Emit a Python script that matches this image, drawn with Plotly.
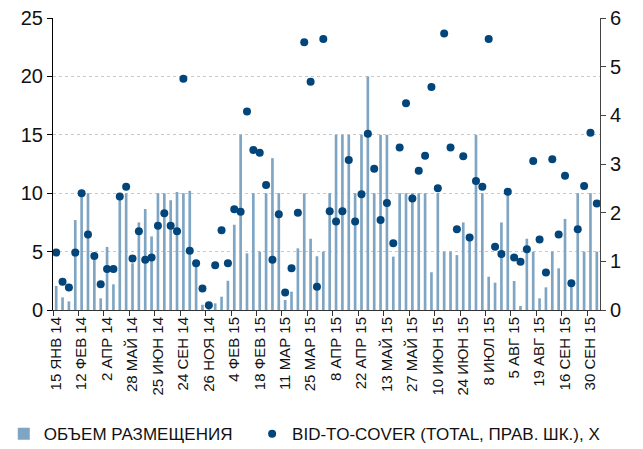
import plotly.graph_objects as go

# Auction dates shown on the axis (every 4th auction)
date_labels = ['15 ЯНВ 14', '12 ФЕВ 14', '2 АПР 14', '28 МАЙ 14', '25 ИЮН 14', '24 СЕН 14',
               '26 НОЯ 14', '4 ФЕВ 15', '18 ФЕВ 15', '11 МАР 15', '25 МАР 15', '8 АПР 15',
               '22 АПР 15', '13 МАЙ 15', '27 МАЙ 15', '10 ИЮН 15', '24 ИЮН 15', '8 ИЮЛ 15',
               '5 АВГ 15', '19 АВГ 15', '16 СЕН 15', '30 СЕН 15']

# Placement volume (left axis)
volume = [2.06, 1.08, 0.74, 7.7, 10, 10, 4.3, 1.0, 5.4, 2.2,
          10, 10, 4.0, 7.5, 8.65, 6.3, 10, 10, 9.4, 10.1,
          10, 10.2, 3.9, 0.45, 0.5, 0.57, 1.14, 2.5, 7.3, 15,
          4.85, 10, 5.0, 10, 13, 10, 0.86, 1.57, 5.28, 10,
          6.1, 4.6, 5.0, 10, 15, 15, 15, 10, 15, 20,
          10, 15, 15, 4.57, 10, 10, 10, 10, 10, 3.23,
          10, 5.0, 5.0, 4.7, 7.5, 6.3, 15, 10, 2.85, 2.34,
          7.5, 10, 2.48, 0.34, 6.1, 5.0, 1.0, 1.94, 5.0, 3.57,
          7.8, 2.0, 10, 5.0, 10, 5.0]

# Bid-to-cover ratio (right axis)
bid_to_cover = [1.18, 0.58, 0.46, 1.18, 2.4, 1.55, 1.11, 0.53, 0.84, 0.84,
                2.33, 2.53, 1.06, 1.62, 1.03, 1.08, 1.73, 1.99, 1.73, 1.62,
                4.75, 1.22, 0.96, 0.44, 0.1, 0.92, 1.64, 0.96, 2.07, 2.02,
                4.08, 3.29, 3.23, 2.57, 1.03, 1.97, 0.36, 0.86, 2.0, 5.5,
                4.69, 0.48, 5.57, 2.03, 1.82, 2.03, 3.08, 1.82, 2.38, 3.62,
                2.9, 1.85, 2.2, 1.37, 3.34, 4.25, 2.29, 2.86, 3.17, 4.58,
                2.5, 5.68, 3.34, 1.66, 3.16, 1.49, 2.65, 2.53, 5.57, 1.3,
                1.15, 2.43, 1.08, 0.99, 1.25, 3.06, 1.45, 0.77, 3.1, 1.55,
                2.76, 0.55, 1.66, 2.55, 3.64, 2.19]

x = list(range(len(volume)))
font_family = 'Liberation Sans Narrow, Arial Narrow, Liberation Sans, Arial, sans-serif'

fig = go.Figure()

fig.add_trace(go.Bar(
    x=x,
    y=volume,
    name='ОБЪЕМ РАЗМЕЩЕНИЯ',
    marker=dict(color='#7FA5C3', line=dict(width=0)),
    width=0.42,
    legend='legend',
))

fig.add_trace(go.Scatter(
    x=x,
    y=bid_to_cover,
    name='BID-TO-COVER (TOTAL, ПРАВ. ШК.), X',
    mode='markers',
    marker=dict(color='#02457A', size=8),
    yaxis='y2',
    legend='legend2',
))

legend_style = dict(orientation='h', y=-0.425, yanchor='middle', xanchor='left',
                    font=dict(size=17, color='#111111'), bgcolor='rgba(0,0,0,0)')

fig.update_layout(
    width=643,
    height=449,
    margin=dict(l=53, r=43, t=18, b=139, autoexpand=False),
    plot_bgcolor='white',
    paper_bgcolor='white',
    font=dict(family=font_family, color='#111111', size=15),
    showlegend=True,
    legend=dict(x=-0.09, **legend_style),
    legend2=dict(x=0.364, **legend_style),
    xaxis=dict(
        range=[-0.5, len(volume) - 0.5],
        tickmode='array',
        # labels sit on every 4th auction, tick marks on the group boundaries
        tickvals=[i * 4 for i in range(len(date_labels))],
        ticktext=date_labels,
        tickangle=-90,
        ticks='',
        minor=dict(
            tickmode='array',
            tickvals=[i * 4 - 0.5 for i in range(len(date_labels))],
            ticks='outside',
            ticklen=5,
            tickcolor='#333333',
            showgrid=False,
        ),
        showline=True,
        linecolor='#333333',
        linewidth=1,
        showgrid=False,
        zeroline=False,
        tickfont=dict(size=15),
    ),
    yaxis=dict(
        range=[0, 25],
        dtick=5,
        ticks='outside',
        ticklen=5,
        tickcolor='#000000',
        showline=True,
        linecolor='#000000',
        linewidth=1,
        showgrid=True,
        gridcolor='#C8C8C8',
        griddash='dot',
        zeroline=False,
        tickfont=dict(size=20),
    ),
    yaxis2=dict(
        range=[0, 6],
        dtick=1,
        overlaying='y',
        side='right',
        ticks='outside',
        ticklen=5,
        tickcolor='#444444',
        showline=True,
        linecolor='#444444',
        linewidth=1,
        showgrid=False,
        zeroline=False,
        tickfont=dict(size=20),
    ),
)

# drop the default page margin so the figure fills the window exactly
fig.write_html('out.html', config={'displayModeBar': False},
               post_script="document.body.style.margin='0';")
